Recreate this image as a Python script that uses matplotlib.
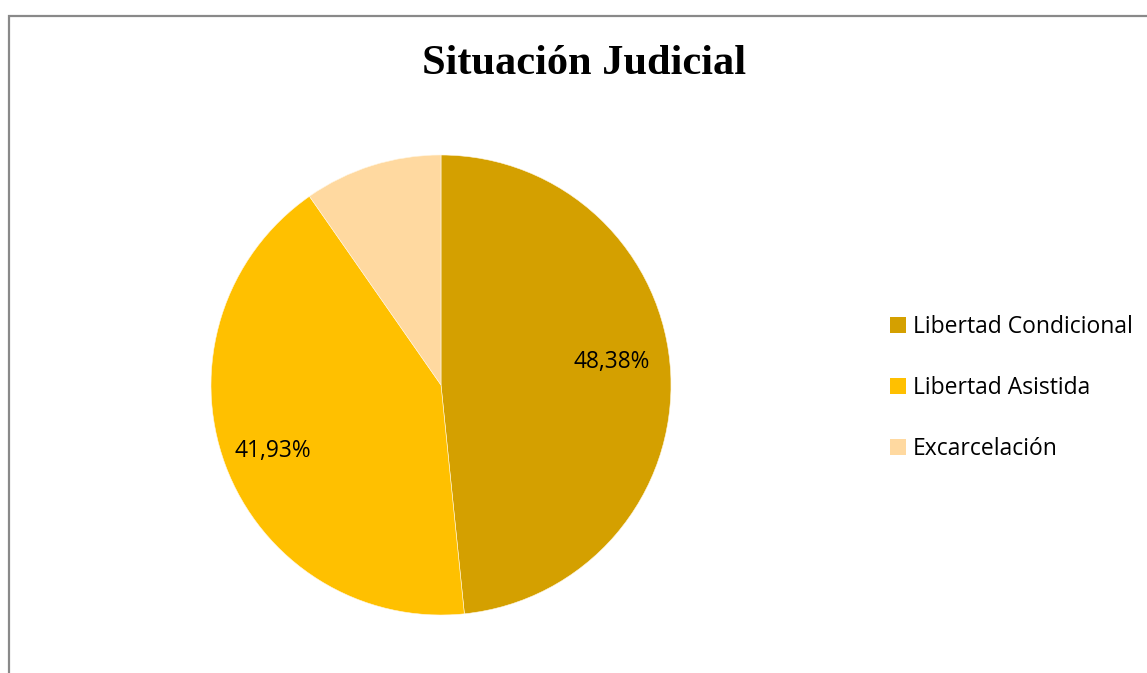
import matplotlib
matplotlib.use("Agg")
import matplotlib.pyplot as plt
from matplotlib.patches import Rectangle
import numpy as np

categories = ["Libertad Condicional", "Libertad Asistida", "Excarcelación"]
values = [48.38, 41.93, 9.69]
value_labels = ["48,38%", "41,93%", ""]
colors = ["#D4A000", "#FFC000", "#FFD9A0"]
title = "Situación Judicial"

W, H = 1147, 673
fig = plt.figure(figsize=(W / 100, H / 100), dpi=100)
fig.patch.set_facecolor("white")

# frame
fig.add_artist(Rectangle((9 / W, -0.2), 1.5, 1.2 - 15.5 / H + 0.0,
                         transform=fig.transFigure, fill=False,
                         edgecolor="#898989", linewidth=1.6, clip_on=False))

cx, cy, r = 441, 385, 230
ax = fig.add_axes([(cx - r) / W, (H - cy - r) / H, 2 * r / W, 2 * r / H])
wedges, _ = ax.pie(values, colors=colors, startangle=90, counterclock=False,
                   radius=1.0, wedgeprops=dict(linewidth=0.4, edgecolor="#FFF6E0"))
ax.set_xlim(-1, 1)
ax.set_ylim(-1, 1)
ax.set_aspect("equal")
ax.axis("off")

label_font = ["Open Sans", "DejaVu Sans"]
offsets = [(0.75, 4.8), (0.785, 1.0), (0.75, 0)]
for w, lab, (d, da) in zip(wedges, value_labels, offsets):
    if not lab:
        continue
    ang = np.deg2rad((w.theta1 + w.theta2) / 2 + da)
    ax.text(d * np.cos(ang), d * np.sin(ang), lab, ha="center", va="center",
            fontsize=16.4, family=label_font, color="black")

fig.text(584 / W, 1 - 64 / H, title, ha="center", va="center",
         fontsize=30.5, fontweight="bold", family=["Liberation Serif", "DejaVu Serif"])

leg = fig.legend(wedges, categories, loc="center left",
                 bbox_to_anchor=(879 / W, 1 - 388 / H), frameon=False,
                 prop=dict(family=label_font, size=16.5),
                 handlelength=0.66, handleheight=0.66, handletextpad=0.32,
                 labelspacing=1.62, borderpad=0)
for h in leg.legend_handles:
    h.set_edgecolor("none")

fig.savefig("out.png", dpi=100)
